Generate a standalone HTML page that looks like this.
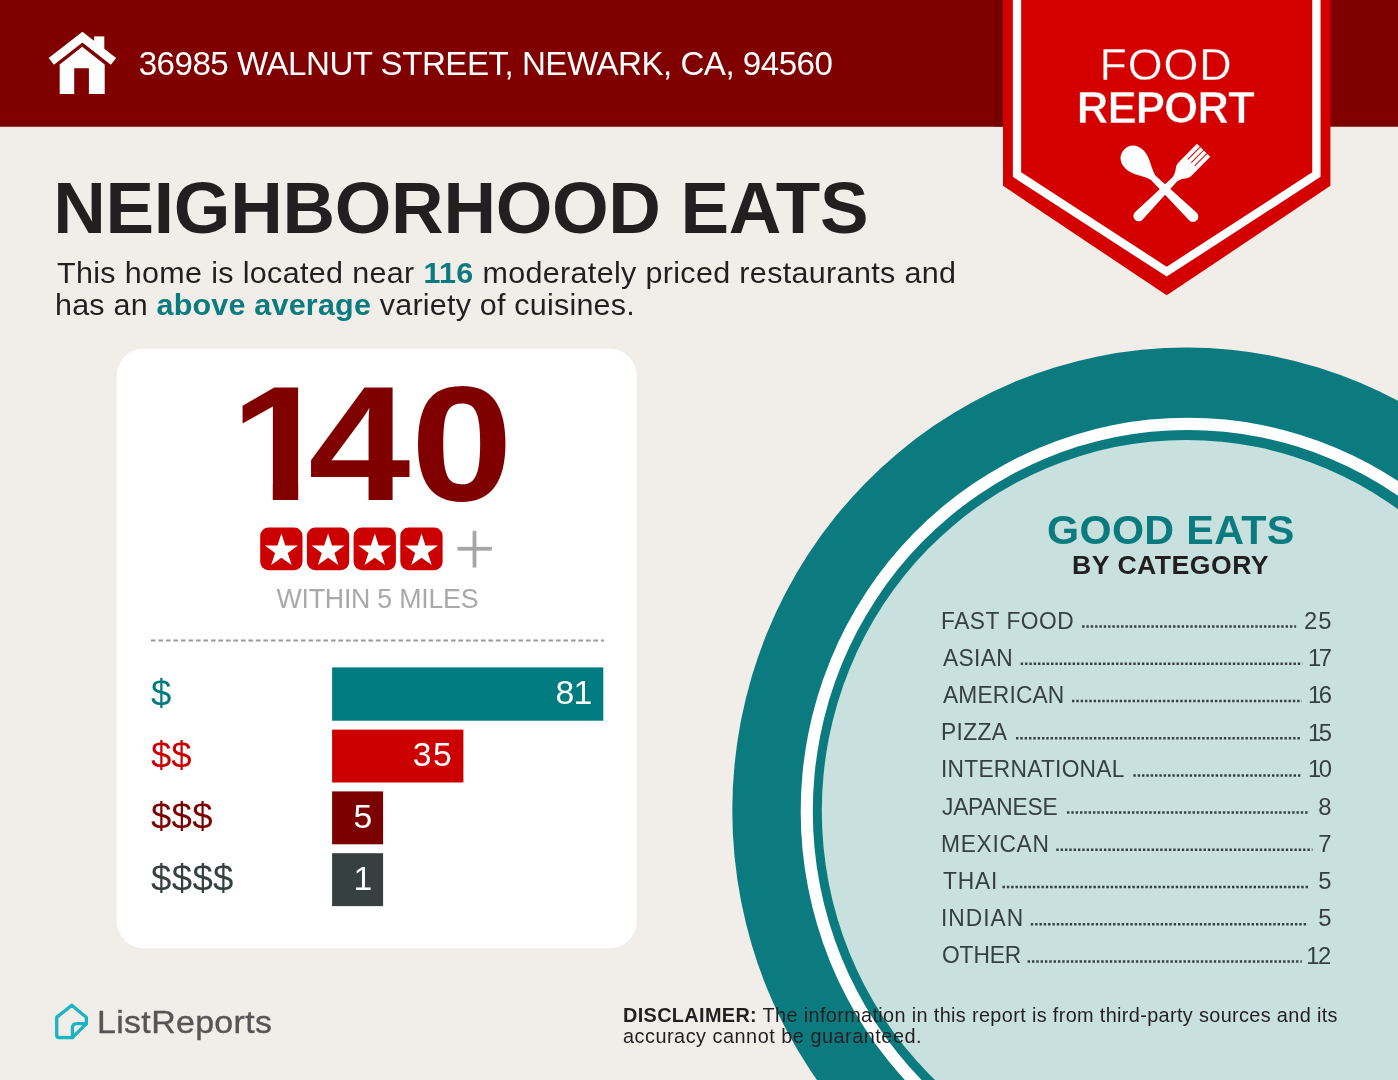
<!DOCTYPE html>
<html lang="en">
<head>
<meta charset="utf-8">
<title>Food Report - Neighborhood Eats</title>
<style>
html,body{margin:0;padding:0;}
body{width:1398px;height:1080px;overflow:hidden;background:#f1ede9;font-family:"Liberation Sans",sans-serif;}
#page{position:relative;width:1398px;height:1080px;overflow:hidden;background:#f1ede9;}
.t{position:absolute;white-space:nowrap;line-height:1;margin:0;padding:0;}
.t b{font-weight:700;}
#sub1 b,#sub2 b{color:#0b7b80;}
#n140::first-letter{margin-right:-21.6px;}
svg.layer{position:absolute;left:0;top:0;width:1398px;height:1080px;overflow:hidden;}
</style>
</head>
<body>
<div id="page">

<!-- big circle -->
<svg class="layer" viewBox="0 0 1398 1080">
  <ellipse cx="1186.4" cy="810.7" rx="454.1" ry="463.2" fill="#0b7b80"/>
  <ellipse cx="1187.6" cy="811.3" rx="386.9" ry="393.6" fill="#ffffff"/>
  <ellipse cx="1187.6" cy="811.3" rx="374.8" ry="381.4" fill="#0b7b80"/>
  <ellipse cx="1186" cy="811" rx="364.2" ry="371.1" fill="#c8e0de"/>
  <rect x="0" y="0" width="1398" height="126.5" fill="#800000"/>
  <rect x="0" y="114.3" width="1398" height="1.6" fill="#870000"/>
  <rect x="0" y="121.5" width="1398" height="5" fill="#7a0000"/>
  <rect x="994" y="0" width="9.5" height="126.5" fill="#730000"/>
  <rect x="116.7" y="348.8" width="520" height="599.4" rx="27" ry="27" fill="#ffffff"/>
  <line x1="150.9" y1="640.6" x2="604" y2="640.6" stroke="#9a9a9a" stroke-width="2" stroke-dasharray="4.7 2.8"/>
  <rect x="332.1" y="667.4" width="271.2" height="53.3" fill="#007b7f"/>
  <rect x="332.1" y="729.6" width="131.3" height="52.9" fill="#cc0000"/>
  <rect x="332.1" y="791.4" width="51.0" height="52.9" fill="#7b0000"/>
  <rect x="332.1" y="853.2" width="51.0" height="52.9" fill="#36403f"/>
<g stroke="#36403f" stroke-width="2.5" stroke-dasharray="2.4 1.93" fill="none">
  <line x1="1082.1" y1="626.5" x2="1296.1" y2="626.5"/>
  <line x1="1020.7" y1="663.7" x2="1302.4" y2="663.7"/>
  <line x1="1072.0" y1="700.9" x2="1301.8" y2="700.9"/>
  <line x1="1016.0" y1="738.2" x2="1301.8" y2="738.2"/>
  <line x1="1133.4" y1="775.4" x2="1301.8" y2="775.4"/>
  <line x1="1067.0" y1="812.6" x2="1308.1" y2="812.6"/>
  <line x1="1056.3" y1="849.8" x2="1312.5" y2="849.8"/>
  <line x1="1002.5" y1="887.0" x2="1308.0" y2="887.0"/>
  <line x1="1030.8" y1="924.3" x2="1308.0" y2="924.3"/>
  <line x1="1027.6" y1="961.5" x2="1301.8" y2="961.5"/>
  </g>
</svg>


<!-- badge, icons -->
<svg class="layer" viewBox="0 0 1398 1080">
  <!-- house icon -->
  <g fill="#ffffff">
    <rect x="94" y="36.4" width="10.3" height="14"/>
    <polygon points="59.7,94 59.7,64.5 82.2,46.8 104.7,64.5 104.7,94 88.9,94 88.9,68.3 74.2,68.3 74.2,94"/>
  </g>
  <polyline points="51.3,61.4 82.4,37.2 113.5,61.4" fill="none" stroke="#ffffff" stroke-width="8.6" stroke-linejoin="miter"/>

  <!-- badge -->
  <polygon points="1003,-2 1330.4,-2 1330.4,185.8 1166.7,295.3 1003,185.8" fill="#d40000"/>
  <polyline points="1017,-6 1017,174.6 1166.7,271.65 1316.4,174.6 1316.4,-6" fill="none" stroke="#ffffff" stroke-width="8.3" stroke-linejoin="miter"/>

  <!-- fork -->
  <g transform="translate(1203.6 150.2) rotate(134.6)">
    <path d="M0,-9.3 L27,-9.3 C32,-9.3 33.5,-4.2 41,-3.1 L92.4,-5.3 A5.3,5.3 0 0 1 92.4,5.3 L41,3.1 C33.5,4.2 32,9.3 27,9.3 L0,9.3 Z" fill="#ffffff"/>
    <g stroke="#d40000" stroke-width="1" fill="none">
      <line x1="-1" y1="-4.7" x2="17.5" y2="-4.7"/>
      <line x1="-1" y1="0" x2="17.5" y2="0"/>
      <line x1="-1" y1="4.7" x2="17.5" y2="4.7"/>
    </g>
  </g>
  <!-- spoon -->
  <g transform="translate(1124.2 149.4) rotate(44.3)">
    <path d="M0,0 C0,-7.5 5.5,-12.8 14.5,-12.8 C24,-12.8 31,-5.6 40.5,-3.1 L96.2,-5.3 A5.3,5.3 0 0 1 96.2,5.3 L40.5,3.1 C31,5.6 24,12.8 14.5,12.8 C5.5,12.8 0,7.5 0,0 Z" fill="#ffffff"/>
  </g>

  <!-- stars -->
  <g id="stars">
    <rect x="260.2" y="527.6" width="42.3" height="42.6" rx="8.4" fill="#cc0000"/>
    <polygon fill="#ffffff" points="281.40,533.60 285.31,545.62 297.95,545.62 287.72,553.05 291.63,565.08 281.40,557.65 271.17,565.08 275.08,553.05 264.85,545.62 277.49,545.62"/>
    <rect x="306.9" y="527.6" width="42.3" height="42.6" rx="8.4" fill="#cc0000"/>
    <polygon fill="#ffffff" points="328.10,533.60 332.01,545.62 344.65,545.62 334.42,553.05 338.33,565.08 328.10,557.65 317.87,565.08 321.78,553.05 311.55,545.62 324.19,545.62"/>
    <rect x="353.6" y="527.6" width="42.3" height="42.6" rx="8.4" fill="#cc0000"/>
    <polygon fill="#ffffff" points="374.80,533.60 378.71,545.62 391.35,545.62 381.12,553.05 385.03,565.08 374.80,557.65 364.57,565.08 368.48,553.05 358.25,545.62 370.89,545.62"/>
    <rect x="400.3" y="527.6" width="42.3" height="42.6" rx="8.4" fill="#cc0000"/>
    <polygon fill="#ffffff" points="421.50,533.60 425.41,545.62 438.05,545.62 427.82,553.05 431.73,565.08 421.50,557.65 411.27,565.08 415.18,553.05 404.95,545.62 417.59,545.62"/>
  </g>
  <!-- plus -->
  <rect x="457.4" y="546.9" width="34.4" height="3.8" fill="#a6a6a6"/>
  <rect x="472.6" y="530.8" width="3.8" height="36.8" fill="#a6a6a6"/>

  <!-- ListReports mark -->
  <g fill="none" stroke="#1ab4c3" stroke-width="3.3" stroke-linejoin="round" stroke-linecap="round">
    <path d="M71.8,1005.3 L56.7,1017.4 L56.7,1034.9 Q56.7,1037.7 59.5,1037.7 L72.4,1037.7 L86.4,1023.7 L86.4,1017.4 Z"/>
    <path d="M72.4,1037.7 L72.4,1028.2 Q72.4,1023.7 76.9,1023.7 L86.4,1023.7"/>
  </g>
</svg>

<div class="t" id="addr" style="left:138.70px;top:47.24px;font-size:33.14px;color:#fff;letter-spacing:-0.509px;">36985 WALNUT STREET, NEWARK, CA, 94560</div>
<div class="t" id="food" style="left:1099.40px;top:42.09px;font-size:44.77px;color:#fff;letter-spacing:0.928px;-webkit-text-stroke:0.4px #d40000;">FOOD</div>
<div class="t" id="report" style="left:1076.80px;top:86.03px;font-size:43.9px;color:#fff;font-weight:700;letter-spacing:-0.978px;-webkit-text-stroke:0.7px #d40000;">REPORT</div>
<div class="t" id="title" style="left:53.30px;top:172.14px;font-size:72.82px;color:#231f20;font-weight:700;letter-spacing:-0.290px;">NEIGHBORHOOD EATS</div>
<div class="t" id="sub1" style="left:57.00px;top:258.14px;font-size:29.6px;color:#231f20;letter-spacing:0.333px;transform-origin:0 0;transform:scaleX(1.03);">This home is located near <b>116</b> moderately priced restaurants and</div>
<div class="t" id="sub2" style="left:55.00px;top:290.14px;font-size:29.6px;color:#231f20;letter-spacing:0.210px;transform-origin:0 0;transform:scaleX(1.03);">has an <b>above average</b> variety of cuisines.</div>
<div class="t" id="n140" style="left:230.40px;top:361.06px;font-size:164.1px;color:#800000;font-weight:700;letter-spacing:0.200px;transform-origin:0 0;transform:scaleX(1.12);clip-path:polygon(0 0,262px 0,262px 172px,90px 172px,90px 121.6px,60.9px 121.6px,60.9px 172px,38.2px 172px,38.2px 121.6px,0 121.6px);">140</div>
<div class="t" id="within" style="left:276.50px;top:586.36px;font-size:26.74px;color:#a9a9a9;letter-spacing:-0.230px;">WITHIN 5 MILES</div>
<div class="t" id="ge" style="left:1047.00px;top:510.98px;font-size:39.83px;color:#0b7b80;font-weight:700;letter-spacing:0.370px;transform-origin:0 0;transform:scaleX(1.035);">GOOD EATS</div>
<div class="t" id="bycat" style="left:1072.10px;top:552.38px;font-size:26.6px;color:#231f20;font-weight:700;letter-spacing:0.490px;">BY CATEGORY</div>
<div class="t" id="logo" style="left:97.00px;top:1005.92px;font-size:31.98px;color:#555555;letter-spacing:0.330px;-webkit-text-stroke:0.35px #555555;transform-origin:0 0;transform:scaleX(1.06);">ListReports</div>
<div class="t" id="disc1" style="left:623.00px;top:1006.16px;font-size:19.3px;color:#231f20;letter-spacing:0.344px;transform-origin:0 0;transform:scaleX(1.03);"><b>DISCLAIMER:</b> The information in this report is from third-party sources and its</div>
<div class="t" id="disc2" style="left:623.00px;top:1027.16px;font-size:19.3px;color:#231f20;letter-spacing:0.494px;transform-origin:0 0;transform:scaleX(1.03);">accuracy cannot be guaranteed.</div>
<div class="t" id="dl0" style="left:150.90px;top:675.76px;font-size:36.6px;color:#007b7f;">$</div>
<div class="t" id="bn0" style="right:806.60px;top:675.90px;font-size:33.72px;color:#fff;letter-spacing:-0.800px;">81</div>
<div class="t" id="dl1" style="left:150.90px;top:737.76px;font-size:36.6px;color:#cc0000;letter-spacing:0.006px;">$$</div>
<div class="t" id="bn1" style="right:944.90px;top:737.90px;font-size:33.72px;color:#fff;letter-spacing:1.400px;">35</div>
<div class="t" id="dl2" style="left:150.90px;top:799.36px;font-size:36.6px;color:#7b0000;letter-spacing:0.301px;">$$$</div>
<div class="t" id="bn2" style="right:1025.80px;top:799.50px;font-size:33.72px;color:#fff;">5</div>
<div class="t" id="dl3" style="left:150.90px;top:860.96px;font-size:36.6px;color:#36403f;letter-spacing:0.400px;">$$$$</div>
<div class="t" id="bn3" style="right:1025.80px;top:862.10px;font-size:33.72px;color:#fff;">1</div>
<div class="t" id="rl0" style="left:941.00px;top:608.51px;font-size:23.84px;color:#36403f;letter-spacing:0.549px;transform-origin:0 0;transform:scaleX(0.955);">FAST FOOD</div>
<div class="t" id="rn0" style="right:65.60px;top:609.11px;font-size:23.84px;color:#36403f;letter-spacing:1.000px;">25</div>
<div class="t" id="rl1" style="left:943.00px;top:645.71px;font-size:23.84px;color:#36403f;letter-spacing:0.370px;transform-origin:0 0;transform:scaleX(0.955);">ASIAN</div>
<div class="t" id="rn1" style="right:68.20px;top:645.65px;font-size:23.84px;color:#36403f;letter-spacing:-2.300px;">17</div>
<div class="t" id="rl2" style="left:943.00px;top:682.91px;font-size:23.84px;color:#36403f;letter-spacing:0.176px;transform-origin:0 0;transform:scaleX(0.955);">AMERICAN</div>
<div class="t" id="rn2" style="right:68.20px;top:683.19px;font-size:23.84px;color:#36403f;letter-spacing:-2.300px;">16</div>
<div class="t" id="rl3" style="left:941.00px;top:720.11px;font-size:23.84px;color:#36403f;letter-spacing:0.369px;transform-origin:0 0;transform:scaleX(0.955);">PIZZA</div>
<div class="t" id="rn3" style="right:68.20px;top:720.73px;font-size:23.84px;color:#36403f;letter-spacing:-2.300px;">15</div>
<div class="t" id="rl4" style="left:941.00px;top:757.31px;font-size:23.84px;color:#36403f;letter-spacing:0.260px;transform-origin:0 0;transform:scaleX(0.955);">INTERNATIONAL</div>
<div class="t" id="rn4" style="right:68.20px;top:757.27px;font-size:23.84px;color:#36403f;letter-spacing:-2.300px;">10</div>
<div class="t" id="rl5" style="left:942.00px;top:794.51px;font-size:23.84px;color:#36403f;letter-spacing:-0.243px;transform-origin:0 0;transform:scaleX(0.955);">JAPANESE</div>
<div class="t" id="rn5" style="right:66.40px;top:794.81px;font-size:23.84px;color:#36403f;">8</div>
<div class="t" id="rl6" style="left:941.00px;top:831.71px;font-size:23.84px;color:#36403f;letter-spacing:0.741px;transform-origin:0 0;transform:scaleX(0.955);">MEXICAN</div>
<div class="t" id="rn6" style="right:66.40px;top:832.35px;font-size:23.84px;color:#36403f;">7</div>
<div class="t" id="rl7" style="left:943.00px;top:868.91px;font-size:23.84px;color:#36403f;letter-spacing:0.904px;transform-origin:0 0;transform:scaleX(0.955);">THAI</div>
<div class="t" id="rn7" style="right:66.40px;top:868.89px;font-size:23.84px;color:#36403f;">5</div>
<div class="t" id="rl8" style="left:941.00px;top:906.11px;font-size:23.84px;color:#36403f;letter-spacing:1.046px;transform-origin:0 0;transform:scaleX(0.955);">INDIAN</div>
<div class="t" id="rn8" style="right:66.40px;top:906.43px;font-size:23.84px;color:#36403f;">5</div>
<div class="t" id="rl9" style="left:942.00px;top:943.31px;font-size:23.84px;color:#36403f;letter-spacing:-0.100px;transform-origin:0 0;transform:scaleX(0.955);">OTHER</div>
<div class="t" id="rn9" style="right:68.20px;top:943.97px;font-size:23.84px;color:#36403f;letter-spacing:-1.500px;">12</div>
</div>
</body>
</html>
